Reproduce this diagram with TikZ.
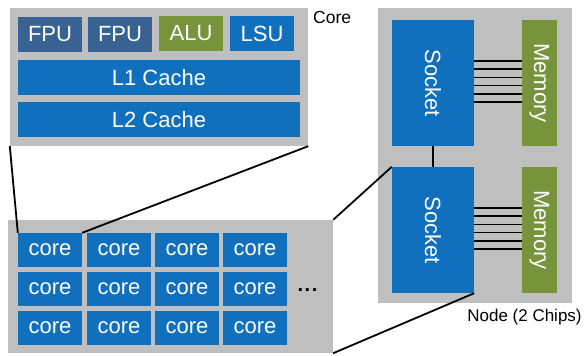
\documentclass[tikz,border=0pt]{standalone}
\usepackage{fontspec}
\setmainfont{Liberation Sans}
\definecolor{panelgray}{RGB}{191,191,191}
\definecolor{cblue}{RGB}{17,112,190}
\definecolor{fpublue}{RGB}{56,98,145}
\definecolor{cgreen}{RGB}{119,147,60}
\tikzset{
  panel/.style={fill=panelgray, draw=none, inner sep=0pt},
  unit/.style={fill=#1, draw=none, inner sep=0pt, text=white, font=\fontsize{22}{24}\selectfont},
  wire/.style={line width=1.8pt, black},
  bus/.style={line width=1.6pt, black},
  lab/.style={inner sep=0pt, text=black}
}
\begin{document}
\begin{tikzpicture}[x=1pt,y=-1pt]
\useasboundingbox (0,0) rectangle (584,356);
% panels
\node[panel, minimum width=298pt, minimum height=138pt] (corebox) at (159,77) {};
\node[panel, minimum width=194pt, minimum height=295pt] (nodebox) at (475,155.5) {};
\node[panel, minimum width=325pt, minimum height=133pt] (chip) at (170.5,286.5) {};
% core contents
\node[unit=fpublue, minimum width=64pt, minimum height=35pt] (fpu1) at (50,34) {FPU};
\node[unit=fpublue, minimum width=64pt, minimum height=35pt] (fpu2) at (120,34) {FPU};
\node[unit=cgreen, minimum width=64pt, minimum height=35pt] (alu) at (191,33.5) {ALU};
\node[unit=cblue, minimum width=64pt, minimum height=35pt] (lsu) at (262,33.5) {LSU};
\node[unit=cblue, minimum width=282pt, minimum height=35pt] (l1) at (159,77.5) {L1 Cache};
\node[unit=cblue, minimum width=282pt, minimum height=35pt] (l2) at (159,119.5) {L2 Cache};
\node[lab, anchor=west, font=\fontsize{17.5}{20}\selectfont] (corelab) at (313,17) {Core};
% node contents
\node[unit=cblue, minimum width=82pt, minimum height=126pt] (s1) at (433,83) {};
\node[text=white, rotate=-90, font=\fontsize{22}{24}\selectfont] (s1t) at (s1.center) {Socket};
\node[unit=cgreen, minimum width=35pt, minimum height=126pt] (m1) at (539.5,83) {};
\node[text=white, rotate=-90, font=\fontsize{22}{24}\selectfont] (m1t) at (m1.center) {Memory};
\node[unit=cblue, minimum width=82pt, minimum height=126pt] (s2) at (433,230) {};
\node[text=white, rotate=-90, font=\fontsize{22}{24}\selectfont] (s2t) at (s2.center) {Socket};
\node[unit=cgreen, minimum width=35pt, minimum height=126pt] (m2) at (539.5,230) {};
\node[text=white, rotate=-90, font=\fontsize{22}{24}\selectfont] (m2t) at (m2.center) {Memory};
\node[lab, font=\fontsize{17}{20}\selectfont] (nodelab) at (524.5,317) {Node (2 Chips)};
\foreach \y in {61,69.2,77.4,85.6,93.8,102} {
  \draw[bus] (s1.east |- 0,\y) -- (m1.west |- 0,\y);
}
\foreach \y in {208,216.2,224.4,232.6,240.8,249} {
  \draw[bus] (s2.east |- 0,\y) -- (m2.west |- 0,\y);
}
\draw[wire] (s1.south) -- (s2.north);
% chip cores
\foreach \c/\x in {1/50,2/119,3/187,4/255} {
  \foreach \r/\y in {1/250,2/289,3/328} {
    \node[unit=cblue, minimum width=64pt, minimum height=34pt] (c\r\c) at (\x,\y) {core};
  }
}
\node[lab, font=\bfseries\fontsize{20}{24}\selectfont] (dots) at (307.5,290) {.\kern1.5pt.\kern1.5pt.};
% connectors
\draw[wire] (corebox.south west) -- (c11.north west);
\draw[wire] (corebox.south east) -- (c11.north east);
\draw[wire] (chip.north east) -- (s2.north west);
\draw[wire] (chip.south east) -- (s2.south east);
\end{tikzpicture}
\end{document}
